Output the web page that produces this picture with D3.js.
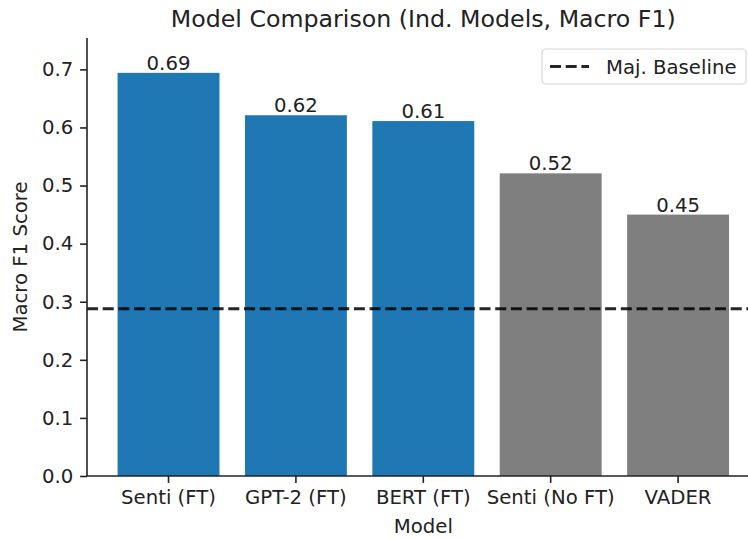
<!DOCTYPE html>
<html>
<head>
<meta charset="utf-8">
<script src="https://cdn.jsdelivr.net/npm/d3@7"></script>
<style>
body { margin: 0; background: #fff; }
svg { display: block; font-family: "DejaVu Sans", sans-serif; }
</style>
</head>
<body>
<div id="chart"></div>
<script>
var models = ["Senti (FT)", "GPT-2 (FT)", "BERT (FT)", "Senti (No FT)", "VADER"];
var scores = [0.694, 0.621, 0.611, 0.521, 0.450];
var barColors = ["#1f77b4", "#1f77b4", "#1f77b4", "#7f7f7f", "#7f7f7f"];
var yTicks = [0.0, 0.1, 0.2, 0.3, 0.4, 0.5, 0.6, 0.7];
var baseline = 0.288;

var width = 748,
height = 539,
plotLeft = 87,
plotRight = 759.6,
plotTop = 38,
plotBottom = 476;

var svg = d3.select("#chart").append("svg")
  .attr("width", width)
  .attr("height", height);

var x = d3.scaleBand()
  .domain(models)
  .range([plotLeft, plotRight])
  .paddingInner(0.2)
  .paddingOuter(0.24);

var y = d3.scaleLinear()
  .domain([0, 0.754])
  .range([plotBottom, plotTop]);

// bars
svg.selectAll(".bar")
  .data(scores)
  .enter().append("rect")
  .attr("class", "bar")
  .attr("x", function(d, i) { return x(models[i]); })
  .attr("width", x.bandwidth())
  .attr("y", function(d) { return y(d); })
  .attr("height", function(d) { return y(0) - y(d); })
  .attr("fill", function(d, i) { return barColors[i]; });

// value labels
svg.selectAll(".val")
  .data(scores)
  .enter().append("text")
  .attr("class", "val")
  .attr("x", function(d, i) { return x(models[i]) + x.bandwidth() / 2; })
  .attr("y", function(d) { return y(d) - 3; })
  .attr("text-anchor", "middle")
  .attr("font-size", "19.7px")
  .attr("fill", "#222")
  .text(function(d) { return d3.format(".2f")(d); });

// majority baseline
svg.append("line")
  .attr("x1", plotLeft)
  .attr("x2", plotRight)
  .attr("y1", y(baseline))
  .attr("y2", y(baseline))
  .attr("stroke", "#000")
  .attr("stroke-opacity", 0.85)
  .attr("stroke-width", 3)
  .attr("stroke-dasharray", "11,4.7");

// axes
var yAxis = svg.append("g")
  .attr("transform", "translate(" + plotLeft + ",0)")
  .call(d3.axisLeft(y).tickValues(yTicks).tickFormat(d3.format(".1f")).tickSize(6.9).tickPadding(6.9));

var xAxis = svg.append("g")
  .attr("transform", "translate(0," + plotBottom + ")")
  .call(d3.axisBottom(x).tickSize(6.9).tickPadding(6.9));

[yAxis, xAxis].forEach(function(g) {
  g.attr("font-family", null).attr("font-size", null);
  g.select(".domain").attr("stroke", "#222").attr("stroke-width", 1.6);
  g.selectAll(".tick line").attr("stroke", "#222").attr("stroke-width", 1.6);
  g.selectAll(".tick text").attr("fill", "#222").attr("font-size", "19.7px");
});
// matplotlib spines have no end caps
yAxis.select(".domain").attr("d", "M0," + plotTop + "V" + plotBottom);
xAxis.select(".domain").attr("d", "M" + plotLeft + ",0H" + plotRight);

// title and axis labels
svg.append("text")
  .attr("x", (plotLeft + plotRight) / 2)
  .attr("y", 27)
  .attr("text-anchor", "middle")
  .attr("font-size", "23.7px")
  .attr("fill", "#222")
  .text("Model Comparison (Ind. Models, Macro F1)");

svg.append("text")
  .attr("x", (plotLeft + plotRight) / 2)
  .attr("y", 533)
  .attr("text-anchor", "middle")
  .attr("font-size", "19.7px")
  .attr("fill", "#222")
  .text("Model");

svg.append("text")
  .attr("transform", "translate(27," + ((plotTop + plotBottom) / 2) + ") rotate(-90)")
  .attr("text-anchor", "middle")
  .attr("font-size", "19.7px")
  .attr("fill", "#222")
  .text("Macro F1 Score");

// legend
var legend = svg.append("g").attr("transform", "translate(542,49)");
legend.append("rect")
  .attr("width", 204)
  .attr("height", 35)
  .attr("rx", 4)
  .attr("fill", "#fff")
  .attr("fill-opacity", 0.8)
  .attr("stroke", "#d6d6d6")
  .attr("stroke-width", 1.2);
legend.append("line")
  .attr("x1", 8).attr("x2", 47)
  .attr("y1", 17.5).attr("y2", 17.5)
  .attr("stroke", "#000")
  .attr("stroke-opacity", 0.85)
  .attr("stroke-width", 3)
  .attr("stroke-dasharray", "11,4.7");
legend.append("text")
  .attr("x", 64)
  .attr("y", 24.5)
  .attr("font-size", "19.7px")
  .attr("fill", "#222")
  .text("Maj. Baseline");
</script>
</body>
</html>
